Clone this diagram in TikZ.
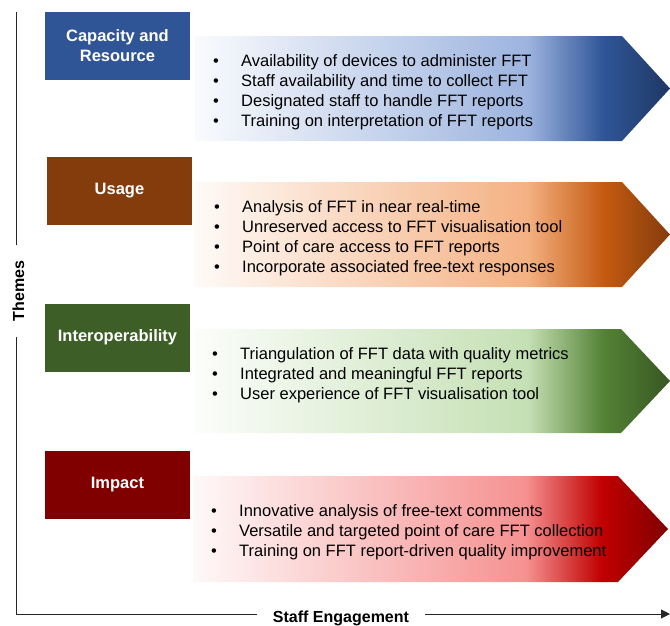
\documentclass[tikz,border=0pt]{standalone}
\usepackage{fontspec}
\setmainfont{Liberation Sans}
\usepackage{tikz}
\usetikzlibrary{arrows.meta}
\definecolor{cap}{RGB}{47,85,151}
\definecolor{capLight}{RGB}{157,180,223}
\definecolor{capDark}{RGB}{31,56,100}
\definecolor{use}{RGB}{132,60,12}
\definecolor{useLight}{RGB}{244,177,131}
\definecolor{useMid}{RGB}{197,90,17}
\definecolor{inter}{RGB}{61,94,39}
\definecolor{interLight}{RGB}{197,224,180}
\definecolor{interMid}{RGB}{84,130,53}
\definecolor{interDark}{RGB}{56,87,35}
\definecolor{imp}{RGB}{128,0,0}
\definecolor{impLight}{RGB}{246,145,145}
\definecolor{impMid}{RGB}{192,0,0}
\newcommand{\arrowshading}[4]{%
  \pgfdeclarehorizontalshading{#1}{100bp}{color(0bp)=(#2!6!white); color(25bp)=(#2!6!white);
    color(60bp)=(#2); color(68bp)=(#3); color(75bp)=(#4); color(100bp)=(#4)}}
\arrowshading{capshade}{capLight}{cap}{capDark}
\arrowshading{useshade}{useLight}{useMid}{use}
\arrowshading{intershade}{interLight}{interMid}{interDark}
\arrowshading{impshade}{impLight}{impMid}{imp}
\tikzset{
  theme box/.style={
    fill=#1,
    text=white,
    font=\fontsize{16.5}{19.5}\selectfont\bfseries,
    minimum width=145pt,
    minimum height=68pt,
    align=center,
    inner sep=0pt,
  },
  theme arrow/.style={
    shading=#1,
  },
  item list/.style={
    anchor=west,
    align=left,
    inner sep=0pt,
    font=\fontsize{16.5}{20}\selectfont,
  },
  axis label/.style={
    font=\fontsize{16}{19}\selectfont\bfseries,
    inner xsep=16pt,
    inner ysep=0pt,
  },
  axis line/.style={black!85, line width=0.9pt},
}
\newcommand{\bul}{\makebox[28pt][l]{\textbullet}}

\begin{document}
\begin{tikzpicture}[x=1pt,y=-1pt]
  \useasboundingbox (0,0) rectangle (670,625);

  \path [theme arrow=capshade] (195,36) -- ++(427,0) -- ++(48,52.5) -- ++(-48,52.5) -- ++(-427,0) -- cycle;
  \path [theme arrow=useshade] (194,182) -- ++(428,0) -- ++(48,52.5) -- ++(-48,52.5) -- ++(-428,0) -- cycle;
  \path [theme arrow=intershade] (195,329) -- ++(426,0) -- ++(49,52) -- ++(-49,52) -- ++(-426,0) -- cycle;
  \path [theme arrow=impshade] (193,476) -- ++(425,0) -- ++(50,53) -- ++(-50,53) -- ++(-425,0) -- cycle;

  \node [theme box=cap] (cap) at (117.5,45.5) {Capacity and\\Resource};
  \node [theme box=use] (use) at (119.5,190.5) {Usage};
  \node [theme box=inter] (inter) at (117.5,337.5) {Interoperability};
  \node [theme box=imp] (imp) at (117.5,484.5) {Impact};

  \node [item list] (capList) at (213,92) {\bul Availability of devices to administer FFT\\
    \bul Staff availability and time to collect FFT\\
    \bul Designated staff to handle FFT reports\\
    \bul Training on interpretation of FFT reports};
  \node [item list] (useList) at (214,238) {\bul Analysis of FFT in near real-time\\
    \bul Unreserved access to FFT visualisation tool\\
    \bul Point of care access to FFT reports\\
    \bul Incorporate associated free-text responses};
  \node [item list] (interList) at (212,375) {\bul Triangulation of FFT data with quality metrics\\
    \bul Integrated and meaningful FFT reports\\
    \bul User experience of FFT visualisation tool};
  \node [item list] (impList) at (211,532) {\bul Innovative analysis of free-text comments\\
    \bul Versatile and targeted point of care FFT collection\\
    \bul Training on FFT report-driven quality improvement};

  \coordinate (yTop) at (16.5,12);
  \coordinate (origin) at (16.5,614);
  \coordinate (xEnd) at (670,614);
  \node [axis label, rotate=90] (themes) at (18.5,291) {Themes};
  \node [axis label, anchor=base] (staff) at (341,622) {Staff Engagement};

  \draw [axis line] (yTop) -- (yTop |- themes.east);
  \draw [axis line] (origin |- themes.west) -- (origin) -- (staff.west |- origin);
  \draw [axis line, -{Triangle[length=9pt,width=9pt]}] (staff.east |- origin) -- (xEnd);
\end{tikzpicture}
\end{document}
